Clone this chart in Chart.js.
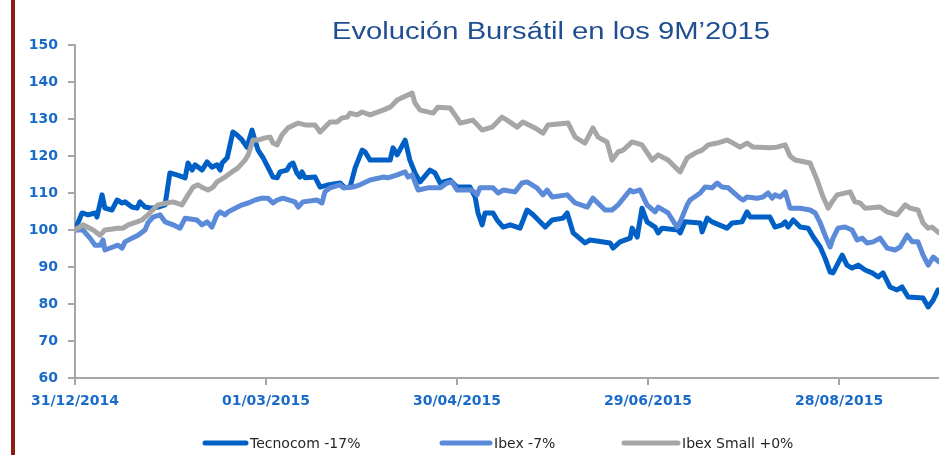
<!DOCTYPE html>
<html><head><meta charset="utf-8">
<script src="https://cdn.jsdelivr.net/npm/chart.js@4.4.0/dist/chart.umd.min.js"></script>
<style>
html,body{margin:0;padding:0;background:#fff;}
#wrap{position:relative;width:939px;height:455px;overflow:hidden;}
#bar{position:absolute;left:11px;top:0;width:4px;height:455px;background:#8e1c12;}
canvas{position:absolute;left:0;top:0;}
</style></head><body>
<div id="wrap"><div id="bar"></div><canvas id="c" width="939" height="455"></canvas></div>
<script>
// ---------- data ----------
const chartTitle = "Evolución Bursátil en los 9M’2015";
const xTickDays = [0, 60, 120, 180, 240];
const xTickLabels = ["31/12/2014", "01/03/2015", "30/04/2015", "29/06/2015", "28/08/2015"];
const seriesNames = ["Tecnocom -17%", "Ibex -7%", "Ibex Small +0%"];

const tecnocomDays = [0,2.2,4.1,6.3,6.9,8.5,9.4,11.6,13.2,14.8,15.7,17.9,19.5,20.4,22,24.2,26.1,28.3,29.8,32,34.6,35.5,36.8,37.7,39.9,41.5,43,44.6,45.6,46.2,47.8,49.6,50.9,52.5,54,55.6,56.5,57.5,59.1,60.6,62.2,63.5,64.4,66.6,67.5,68.5,69.7,70.7,71.3,72.3,75.4,77,79.5,83.3,84.8,86.4,88,90.2,91.1,92.7,99,99.9,101.2,103.7,105.2,106.8,108.4,111.5,113.1,114.7,117.8,120,124.1,125.7,126.6,127.9,128.8,131.3,132.6,134.5,136.7,139.8,142,143.9,147.7,149.9,153.3,154.6,156.5,160.2,161.8,168.1,169,171.2,174.4,175,176.6,178.1,179.7,182.2,183.2,184.4,189.4,190.1,191.6,196.4,197,198.6,200.1,204.8,206.4,209.5,211.1,212.1,218.3,219.9,222.1,223.1,224,225.6,227.8,230.3,231.9,234.1,235.6,237.2,238.1,241,242.5,244.1,246,248.2,250.4,252.3,253.8,256,258.2,259.8,261.7,266.4,268,269.6,271.1];
const tecnocomValues = [100,104.6,104.1,104.6,103.5,109.5,105.9,105.4,108.1,107.3,107.6,106.2,105.9,107.6,106.2,105.9,106.2,106.8,115.4,114.9,114.1,118.1,116.2,117.6,116.2,118.4,117,117.6,116.2,118.1,119.5,126.5,125.7,124.3,122.4,127,124.3,121.6,119.5,117,114.3,114.1,115.7,116.2,117.6,118.1,115.4,114.3,115.7,114.1,114.3,111.6,112.2,112.7,111.4,111.6,116.8,121.6,121.1,118.9,118.9,122.2,120.3,124.3,118.9,115.4,113,116.2,115.4,112.7,113.5,111.6,111.6,108.9,104.6,101.4,104.6,104.6,102.7,100.8,101.4,100.5,105.4,104.1,100.8,102.7,103.2,104.6,99.2,96.5,97.3,96.5,95.1,96.8,97.8,100.5,98.1,105.9,102.2,100.8,99.2,100.5,100,99.2,102.2,101.9,99.5,103.2,102.2,100.5,101.9,102.2,104.9,103.5,103.5,100.8,101.4,102.2,100.8,102.7,100.8,100.5,98.1,95.4,92.4,88.6,88.4,93.2,90.5,89.7,90.5,89.2,88.4,87.3,88.4,84.6,83.8,84.6,81.9,81.6,79.2,81.1,83.8];

const ibexDays = [0,2.5,4.7,6.3,7.9,8.8,9.4,11.9,13.5,14.8,15.7,17.9,19.8,22,22.9,24.5,26.7,28.3,30.8,33,34.6,38.3,39.9,41.5,43,44.6,45.6,47.1,48.1,50.3,52.5,54.4,56.6,58.7,60.6,62.2,63.5,65.3,69.1,70.1,71.6,76,77.6,78.5,80.1,83.3,84.2,87.3,89.5,92.7,96.8,98.3,101.2,103.7,104.6,105.9,107.8,110.9,114.7,116.9,118.4,120,124.7,126.3,127.2,131.3,132.9,134.5,138.2,140.4,142,145.1,147,148.3,149.9,154.6,157.1,160.9,162.7,166.5,168.7,170.6,174.4,175.3,177.5,179.7,182.2,183.2,186.3,189.1,190.1,192.3,193.2,196.4,197.9,200.1,201.7,203.3,205.2,208.9,209.9,211.1,214.3,216.1,217.7,219,219.9,221.5,223.1,224.6,227.8,230.9,232.5,234.1,235.6,237.2,238.1,239.7,241.9,244.1,245.7,247.3,248.8,250.7,252.9,255.1,257.6,259.2,261.4,263,264.8,266.4,268,269.6,271.4];
const ibexValues = [100,100,97.8,95.9,95.9,97.3,94.6,95.4,95.9,95.1,96.8,97.8,98.6,100,101.9,103.5,104.1,102.2,101.4,100.5,103.2,102.7,101.4,102.2,100.8,104.1,104.9,104.1,104.9,105.9,106.8,107.3,108.1,108.6,108.6,107.3,108.1,108.6,107.6,106.2,107.6,108.1,107.3,110.3,111.4,112.2,111.4,111.6,112.2,113.5,114.3,114.1,114.9,115.7,114.3,114.9,110.8,111.4,111.4,112.7,113,110.8,110.8,109.5,111.4,111.4,110,110.8,110.3,112.7,113,111.4,109.5,110.8,108.9,109.5,107.3,106.2,108.6,105.4,105.4,106.8,110.8,110.3,110.8,106.8,104.9,106.2,104.6,100.8,102.2,106.8,108.1,110,111.6,111.4,112.7,111.6,111.4,108.6,108.1,108.9,108.6,108.9,110,108.6,109.5,108.9,110.3,105.9,105.9,105.4,104.6,101.9,98.6,95.4,97.8,100.5,100.8,100,97.3,97.8,96.5,96.8,97.8,95.1,94.6,95.4,98.6,96.8,96.8,93.2,90.5,92.7,91.4];

const ibexSmallDays = [0,2.5,5.7,7.9,9.4,13.5,15.1,16.7,19.5,21,22.9,26.1,28.9,30.8,33.6,35.5,37.1,38.6,40.2,41.8,43.4,44.6,47.1,49.3,51.2,53.4,54.4,55.9,57.5,59.7,61.3,62.2,63.5,65,66.9,70.1,72.3,75.4,77,78.5,80.1,82.3,83.9,85.5,86.4,88.6,90.2,92.7,96.8,99,101.2,103,105.9,106.8,108.4,112.5,114,117.8,120,121,125,127.9,131,134.1,135.7,138.9,140.7,144.5,147,148.6,154.9,157.1,160.2,162.7,164.3,167.1,168.7,170.6,172.2,175,178.1,181.3,183.2,186.3,188.5,190.1,192.3,194.8,197,198.9,201.7,204.8,206.7,208.9,211.1,213,218.3,220.5,223.1,224.6,226.2,230.9,233.1,235,236.6,237.8,239.4,243.5,245,246.6,248.2,252.9,255.1,258.2,260.8,262.3,264.8,266.4,268,269.2,271.4];
const ibexSmallValues = [100,101.4,100,98.6,100,100.5,100.5,101.4,102.2,102.7,104.1,106.8,107.3,107.6,106.8,109.5,111.6,112.2,111.4,110.8,111.6,113,114.3,115.7,116.8,118.9,120.3,124.3,124.3,124.9,125.1,123.5,123,125.7,127.6,128.9,128.4,128.4,126.5,127.8,129.2,129.2,130.3,130.5,131.6,131.1,131.9,131.1,132.4,133.2,135.1,135.9,137,134.3,132.4,131.6,133.2,133,130.3,128.9,129.7,127,127.8,130.5,129.7,127.8,129.2,127.6,126.2,128.4,128.9,125.1,123.5,127.6,125.1,123.8,118.9,121.1,121.6,123.8,123,118.9,120.3,118.9,117,115.7,119.5,120.8,121.6,123,123.5,124.3,123.5,122.4,123.5,122.4,122.2,122.4,123,120,118.9,118.1,113.5,108.9,105.9,107.6,109.5,110.3,107.6,107.3,105.9,106.2,104.9,104.1,106.8,105.9,105.4,101.9,100.5,100.8,99.2];

// ---------- styling ----------
const colors = ["#0060c6", "#5a8ad8", "#a6a6a6"];
const tickBlue = "#1a6bc8";
const axisGray = "#a6a6a6";

function pts(days, vals) { return days.map((d, i) => ({ x: d, y: vals[i] })); }

const decoPlugin = {
  id: 'deco',
  afterDraw(chart) {
    const ctx = chart.ctx;
    // title
    ctx.save();
    ctx.font = '23px "Liberation Sans", Arial, sans-serif';
    ctx.fillStyle = '#1f4e91';
    ctx.textBaseline = 'alphabetic';
    const w = ctx.measureText(chartTitle).width;
    const sx = 438 / w;
    ctx.translate(332, 39);
    ctx.scale(sx, 1);
    ctx.fillText(chartTitle, 0, 0);
    ctx.restore();
    // legend
    const starts = [203, 440, 622];
    const lens = [45, 52, 58];
    const ly = 443;
    ctx.save();
    ctx.font = '14px "DejaVu Sans", sans-serif';
    ctx.textBaseline = 'middle';
    ctx.fillStyle = '#262626';
    chart.data.datasets.forEach((ds, i) => {
      ctx.strokeStyle = ds.borderColor;
      ctx.lineWidth = 5;
      ctx.lineCap = 'round';
      ctx.beginPath();
      ctx.moveTo(starts[i] + 2, ly);
      ctx.lineTo(starts[i] + lens[i] - 2, ly);
      ctx.stroke();
      ctx.fillText(ds.label, starts[i] + lens[i] + 2, ly + 1);
    });
    ctx.restore();
  }
};

const datasets = [
  { label: seriesNames[0], data: pts(tecnocomDays, tecnocomValues), borderColor: colors[0], order: 2 },
  { label: seriesNames[1], data: pts(ibexDays, ibexValues), borderColor: colors[1], order: 1 },
  { label: seriesNames[2], data: pts(ibexSmallDays, ibexSmallValues), borderColor: colors[2], order: 0 }
].map(d => Object.assign(d, { borderWidth: 5, pointRadius: 0, tension: 0, fill: false, borderJoinStyle: 'round', borderCapStyle: 'round' }));

new Chart(document.getElementById('c'), {
  type: 'line',
  data: { datasets },
  plugins: [decoPlugin],
  options: {
    responsive: false,
    animation: false,
    layout: { padding: { top: 45, bottom: 44, left: 0, right: 0 } },
    plugins: { legend: { display: false }, title: { display: false }, tooltip: { enabled: false } },
    scales: {
      x: {
        type: 'linear', min: 0, max: 271.4,
        afterBuildTicks(s) { s.ticks = xTickDays.map(v => ({ value: v })); },
        afterFit(s) { s.height = 33; },
        ticks: {
          autoSkip: false, maxRotation: 0, padding: 8, color: tickBlue,
          font: { family: '"DejaVu Sans", sans-serif', weight: 'bold', size: 14 },
          callback(v) { const i = xTickDays.indexOf(v); return i >= 0 ? xTickLabels[i] : ''; }
        },
        grid: { drawOnChartArea: false, drawTicks: true, tickLength: 7, color: axisGray, lineWidth: 2 },
        border: { display: true, color: axisGray, width: 2 }
      },
      y: {
        min: 60, max: 150,
        afterFit(s) { s.width = 75; },
        ticks: {
          stepSize: 10, padding: 10, color: tickBlue,
          font: { family: '"DejaVu Sans", sans-serif', weight: 'bold', size: 14 }
        },
        grid: { drawOnChartArea: false, drawTicks: true, tickLength: 7, color: axisGray, lineWidth: 2 },
        border: { display: true, color: axisGray, width: 2 }
      }
    }
  }
});
</script>
</body></html>
